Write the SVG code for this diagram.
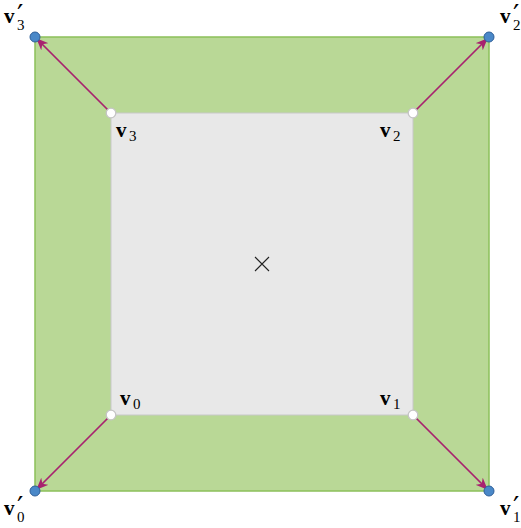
<svg xmlns="http://www.w3.org/2000/svg" width="521" height="528" viewBox="0 0 521 528">
<style>
.v{font-family:"Liberation Serif","Times New Roman",serif;font-weight:bold;font-size:21px;fill:#000}
.s{font-family:"Liberation Serif","Times New Roman",serif;font-size:15px;fill:#000}
.p{font-family:"DejaVu Serif","Liberation Serif",serif;font-size:28px;fill:#000}
.ar{stroke:#a8226f;stroke-width:1.7;fill:none;marker-end:url(#ah)}
.in{fill:#fff;stroke:#c4c4c4;stroke-width:1.3}
.out{fill:#4a88c8;stroke:#2f5f99;stroke-width:1}
</style>
<defs>
<marker id="ah" viewBox="0 0 12 10" refX="11" refY="5" markerWidth="12" markerHeight="10" markerUnits="userSpaceOnUse" orient="auto">
<path d="M0,0 L12,5 L0,10 L3.5,5 Z" fill="#a8226f"/>
</marker>
</defs>
<g id="outer"><rect x="35" y="37" width="454" height="454" fill="#b9d896" stroke="#8cc05a" stroke-width="1.5"/></g>
<g id="inner"><rect x="111" y="113" width="302" height="302" fill="#e8e8e8" stroke="#c8c8c8" stroke-width="1"/></g>
<g id="center"><path d="M255,257 L269,271 M269,257 L255,271" stroke="#222" stroke-width="1.1"/></g>
<g id="connectors">
<line class="ar" x1="111" y1="113" x2="37" y2="39"/>
<line class="ar" x1="413" y1="113" x2="487" y2="39"/>
<line class="ar" x1="111" y1="415" x2="37" y2="489"/>
<line class="ar" x1="413" y1="415" x2="487" y2="489"/>
</g>
<g id="v3"><circle class="in" cx="111" cy="113" r="4.8"/><text x="116" y="137" class="v">v</text><text x="129" y="141" class="s">3</text></g>
<g id="v2"><circle class="in" cx="413" cy="113" r="4.8"/><text x="380" y="137" class="v">v</text><text x="393" y="141" class="s">2</text></g>
<g id="v0"><circle class="in" cx="111" cy="415" r="4.8"/><text x="120" y="405" class="v">v</text><text x="133" y="409" class="s">0</text></g>
<g id="v1"><circle class="in" cx="413" cy="415" r="4.8"/><text x="380" y="405" class="v">v</text><text x="393" y="409" class="s">1</text></g>
<g id="v3p"><circle class="out" cx="35" cy="37" r="5"/><text x="4" y="23" class="v">v</text><text x="17" y="25" class="p">′</text><text x="17" y="30" class="s">3</text></g>
<g id="v2p"><circle class="out" cx="489" cy="37" r="5"/><text x="500" y="23" class="v">v</text><text x="513" y="25" class="p">′</text><text x="513" y="30" class="s">2</text></g>
<g id="v0p"><circle class="out" cx="35" cy="491" r="5"/><text x="4" y="515" class="v">v</text><text x="17" y="517" class="p">′</text><text x="17" y="522" class="s">0</text></g>
<g id="v1p"><circle class="out" cx="489" cy="491" r="5"/><text x="500" y="515" class="v">v</text><text x="513" y="517" class="p">′</text><text x="513" y="522" class="s">1</text></g>
</svg>
